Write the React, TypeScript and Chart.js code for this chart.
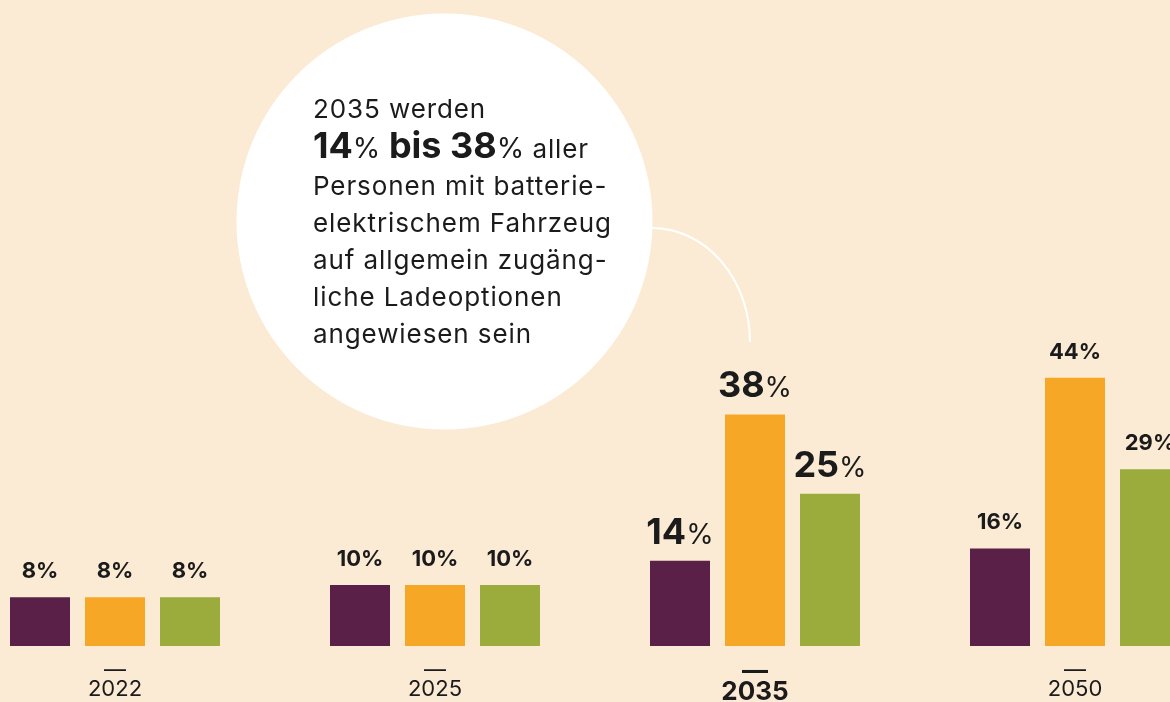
import React, { useEffect, useRef } from "react";
import { Chart, registerables } from "chart.js";

Chart.register(...registerables);

// ---- data ----
const categories = ["2022", "2025", "2035", "2050"];
const seriesPurple = [8, 10, 14, 16];
const seriesOrange = [8, 10, 38, 44];
const seriesGreen = [8, 10, 25, 29];
const seriesNames = ["Variante 1", "Variante 2", "Variante 3"];
const highlightIndex = 2; // 2035
const calloutLines = [
  "2035 werden",
  "__BOLD__",
  "Personen mit batterie-",
  "elektrischem Fahrzeug",
  "auf allgemein zugäng-",
  "liche Ladeoptionen",
  "angewiesen sein",
];
const calloutLow = 14;
const calloutHigh = 38;

// ---- style ----
const BG = "#FCEBD4";
const COLORS = ["#5A2047", "#F5A725", "#9BAB3C"];
const TEXT = "#1b1b1b";
const FAMILY = "Inter, 'Noto Sans', sans-serif";
const OFFSET = 45; // canvas is shifted left by this many px

type Piece = { t: string; f: string; ls?: string };

function drawPieces(
  ctx: CanvasRenderingContext2D,
  x: number,
  y: number,
  pieces: Piece[],
  align: "left" | "center"
) {
  ctx.textBaseline = "alphabetic";
  ctx.textAlign = "left";
  let total = 0;
  const widths = pieces.map((p) => {
    ctx.font = p.f;
    (ctx as any).letterSpacing = p.ls || "0px";
    const w = ctx.measureText(p.t).width;
    total += w;
    return w;
  });
  let cx = align === "center" ? x - total / 2 : x;
  pieces.forEach((p, i) => {
    ctx.font = p.f;
    (ctx as any).letterSpacing = p.ls || "0px";
    ctx.fillText(p.t, cx, y);
    cx += widths[i];
  });
  (ctx as any).letterSpacing = "0px";
}

const calloutPlugin = {
  id: "callout",
  beforeDatasetsDraw(chart: any) {
    const ctx: CanvasRenderingContext2D = chart.ctx;
    ctx.save();
    ctx.translate(OFFSET, 0);
    // bubble
    ctx.fillStyle = "#ffffff";
    ctx.beginPath();
    ctx.arc(444.5, 221.5, 208, 0, Math.PI * 2);
    ctx.fill();
    // connector
    ctx.strokeStyle = "#ffffff";
    ctx.lineWidth = 2;
    ctx.beginPath();
    ctx.ellipse(652, 342, 98, 114, 0, -Math.PI / 2, 0);
    ctx.stroke();
    // text
    ctx.fillStyle = TEXT;
    const reg = `400 26px ${FAMILY}`;
    const b36 = `700 36px ${FAMILY}`;
    const r28 = `400 28px ${FAMILY}`;
    const LS = "0.9px";
    const baselines = [118, 158, 195, 232, 269, 306, 343];
    calloutLines.forEach((line, i) => {
      if (line === "__BOLD__") {
        drawPieces(
          ctx,
          313,
          baselines[i],
          [
            { t: String(calloutLow), f: b36 },
            { t: "%", f: r28 },
            { t: " bis ", f: b36 },
            { t: String(calloutHigh), f: b36 },
            { t: "%", f: r28 },
            { t: " aller", f: reg, ls: LS },
          ],
          "left"
        );
      } else {
        drawPieces(ctx, 313, baselines[i], [{ t: line, f: reg, ls: LS }], "left");
      }
    });
    ctx.restore();
  },
};

const valueLabelPlugin = {
  id: "valueLabels",
  afterDatasetsDraw(chart: any) {
    const ctx: CanvasRenderingContext2D = chart.ctx;
    ctx.save();
    ctx.fillStyle = TEXT;
    chart.data.datasets.forEach((ds: any, di: number) => {
      const meta = chart.getDatasetMeta(di);
      meta.data.forEach((bar: any, i: number) => {
        const v = ds.data[i];
        if (i === highlightIndex) {
          drawPieces(
            ctx,
            bar.x,
            bar.y - 17,
            [
              { t: String(v), f: `700 36px ${FAMILY}` },
              { t: "%", f: `400 28px ${FAMILY}` },
            ],
            "center"
          );
        } else {
          drawPieces(ctx, bar.x, bar.y - 19, [{ t: `${v}%`, f: `700 22px ${FAMILY}` }], "center");
        }
      });
    });
    ctx.restore();
  },
};

export default function App() {
  const ref = useRef<HTMLCanvasElement | null>(null);

  useEffect(() => {
    if (!ref.current) return;
    const chart = new Chart(ref.current, {
      type: "bar",
      data: {
        labels: categories,
        datasets: [seriesPurple, seriesOrange, seriesGreen].map((d, i) => ({
          label: seriesNames[i],
          data: d,
          backgroundColor: COLORS[i],
          borderWidth: 0,
          categoryPercentage: 225 / 320,
          barPercentage: 0.8,
        })),
      },
      options: {
        animation: false,
        responsive: false,
        devicePixelRatio: 1,
        layout: { padding: 0 },
        plugins: {
          legend: { display: false },
          tooltip: { enabled: false },
        },
        scales: {
          x: {
            grid: { display: false, drawTicks: false },
            border: { display: false },
            afterFit: (scale: any) => {
              scale.height = 56;
            },
            ticks: {
              autoSkip: false,
              maxRotation: 0,
              padding: 15,
              color: TEXT,
              callback: (_v: any, i: number) => ["—", categories[i]],
              font: (c: any) =>
                c.index === highlightIndex
                  ? { family: FAMILY, size: 26, weight: "bold", lineHeight: 21 / 26 }
                  : { family: FAMILY, size: 22, weight: "normal", lineHeight: 19 / 22 },
            },
          },
          y: {
            display: false,
            min: 0,
            max: 106,
          },
        },
      },
      plugins: [calloutPlugin, valueLabelPlugin],
    } as any);
    return () => chart.destroy();
  }, []);

  return (
    <div
      style={{
        position: "fixed",
        left: 0,
        top: 0,
        width: 1170,
        height: 702,
        overflow: "hidden",
        background: BG,
      }}
    >
      <canvas
        ref={ref}
        width={1280}
        height={702}
        style={{ position: "absolute", left: -OFFSET, top: 0, width: 1280, height: 702 }}
      />
    </div>
  );
}
